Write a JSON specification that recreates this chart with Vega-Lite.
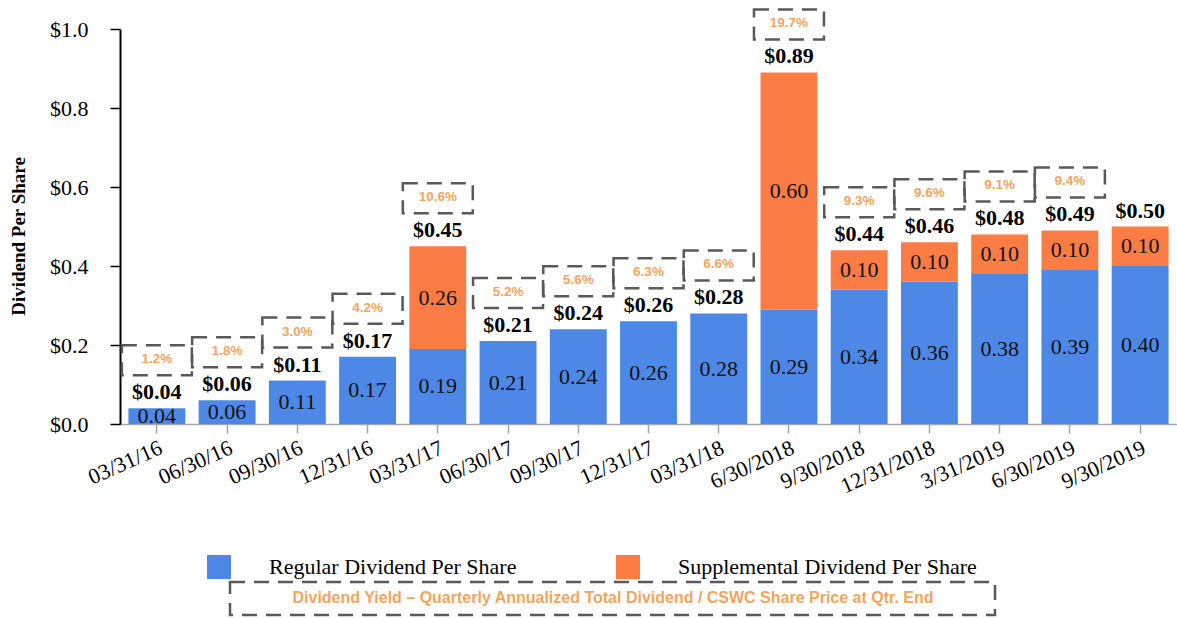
{
  "$schema": "https://vega.github.io/schema/vega-lite/v6.json",
  "width": 1057,
  "height": 395,
  "autosize": "none",
  "padding": {"left": 120, "top": 29, "right": 0, "bottom": 195},
  "background": "white",
  "config": {"view": {"stroke": null}, "font": "Liberation Serif"},
  "resolve": {"scale": {"y": "independent"}},
  "datasets": {
    "segments": [
      {"quarter": "03/31/16", "type": "Regular Dividend Per Share", "value": 0.04},
      {"quarter": "06/30/16", "type": "Regular Dividend Per Share", "value": 0.06},
      {"quarter": "09/30/16", "type": "Regular Dividend Per Share", "value": 0.11},
      {"quarter": "12/31/16", "type": "Regular Dividend Per Share", "value": 0.17},
      {"quarter": "03/31/17", "type": "Regular Dividend Per Share", "value": 0.19},
      {"quarter": "03/31/17", "type": "Supplemental Dividend Per Share", "value": 0.26},
      {"quarter": "06/30/17", "type": "Regular Dividend Per Share", "value": 0.21},
      {"quarter": "09/30/17", "type": "Regular Dividend Per Share", "value": 0.24},
      {"quarter": "12/31/17", "type": "Regular Dividend Per Share", "value": 0.26},
      {"quarter": "03/31/18", "type": "Regular Dividend Per Share", "value": 0.28},
      {"quarter": "6/30/2018", "type": "Regular Dividend Per Share", "value": 0.29},
      {"quarter": "6/30/2018", "type": "Supplemental Dividend Per Share", "value": 0.60},
      {"quarter": "9/30/2018", "type": "Regular Dividend Per Share", "value": 0.34},
      {"quarter": "9/30/2018", "type": "Supplemental Dividend Per Share", "value": 0.10},
      {"quarter": "12/31/2018", "type": "Regular Dividend Per Share", "value": 0.36},
      {"quarter": "12/31/2018", "type": "Supplemental Dividend Per Share", "value": 0.10},
      {"quarter": "3/31/2019", "type": "Regular Dividend Per Share", "value": 0.38},
      {"quarter": "3/31/2019", "type": "Supplemental Dividend Per Share", "value": 0.10},
      {"quarter": "6/30/2019", "type": "Regular Dividend Per Share", "value": 0.39},
      {"quarter": "6/30/2019", "type": "Supplemental Dividend Per Share", "value": 0.10},
      {"quarter": "9/30/2019", "type": "Regular Dividend Per Share", "value": 0.40},
      {"quarter": "9/30/2019", "type": "Supplemental Dividend Per Share", "value": 0.10}
    ],
    "totals": [
      {"quarter": "03/31/16", "total": 0.04, "yield": "1.2%"},
      {"quarter": "06/30/16", "total": 0.06, "yield": "1.8%"},
      {"quarter": "09/30/16", "total": 0.11, "yield": "3.0%"},
      {"quarter": "12/31/16", "total": 0.17, "yield": "4.2%"},
      {"quarter": "03/31/17", "total": 0.45, "yield": "10.6%"},
      {"quarter": "06/30/17", "total": 0.21, "yield": "5.2%"},
      {"quarter": "09/30/17", "total": 0.24, "yield": "5.6%"},
      {"quarter": "12/31/17", "total": 0.26, "yield": "6.3%"},
      {"quarter": "03/31/18", "total": 0.28, "yield": "6.6%"},
      {"quarter": "6/30/2018", "total": 0.89, "yield": "19.7%"},
      {"quarter": "9/30/2018", "total": 0.44, "yield": "9.3%"},
      {"quarter": "12/31/2018", "total": 0.46, "yield": "9.6%"},
      {"quarter": "3/31/2019", "total": 0.48, "yield": "9.1%"},
      {"quarter": "6/30/2019", "total": 0.49, "yield": "9.4%"},
      {"quarter": "9/30/2019", "total": 0.50, "yield": null}
    ]
  },
  "encoding": {
    "x": {
      "field": "quarter",
      "type": "nominal",
      "sort": ["03/31/16", "06/30/16", "09/30/16", "12/31/16", "03/31/17", "06/30/17", "09/30/17", "12/31/17", "03/31/18", "6/30/2018", "9/30/2018", "12/31/2018", "3/31/2019", "6/30/2019", "9/30/2019"],
      "scale": {"paddingInner": 0.19, "paddingOuter": 0.12},
      "axis": {
        "title": null,
        "labelAngle": -24,
        "labelAlign": "right",
        "labelBaseline": "top",
        "labelFont": "Liberation Serif",
        "labelFontSize": 22,
        "labelColor": "#000000",
        "labelPadding": 4,
        "domainColor": "#a6a6a6",
        "domainWidth": 1.5,
        "tickColor": "#a6a6a6",
        "tickSize": 9,
        "tickWidth": 1.5
      }
    }
  },
  "layer": [
    {
      "data": {"name": "segments"},
      "mark": {"type": "bar"},
      "encoding": {
        "y": {
          "field": "value",
          "type": "quantitative",
          "stack": "zero",
          "scale": {"domain": [0, 1]},
          "axis": {
            "title": "Dividend Per Share",
            "titleFont": "Liberation Serif",
            "titleFontSize": 19,
            "titleFontWeight": "bold",
            "titleColor": "#000000",
            "titleX": -102,
            "titleY": 207,
            "titleBaseline": "middle",
            "values": [0, 0.2, 0.4, 0.6, 0.8, 1.0],
            "format": "$.1f",
            "labelFont": "Liberation Serif",
            "labelFontSize": 22,
            "labelColor": "#000000",
            "labelPadding": 22,
            "tickSize": 10,
            "tickColor": "#000000",
            "tickWidth": 1.5,
            "domainColor": "#000000",
            "domainWidth": 2,
            "grid": false
          }
        },
        "color": {
          "field": "type",
          "type": "nominal",
          "scale": {"domain": ["Regular Dividend Per Share", "Supplemental Dividend Per Share"], "range": ["#4E88E6", "#FB7C45"]},
          "legend": {
            "orient": "none",
            "legendX": 87,
            "legendY": 526,
            "direction": "horizontal",
            "title": null,
            "symbolType": "square",
            "symbolSize": 576,
            "symbolStrokeWidth": 0,
            "labelFont": "Liberation Serif",
            "labelFontSize": 22,
            "labelColor": "#000000",
            "labelOffset": 38,
            "labelLimit": 600,
            "columnPadding": 99,
            "padding": 0
          }
        },
        "order": {"field": "type", "type": "nominal", "sort": "ascending"}
      }
    },
    {
      "data": {"name": "segments"},
      "transform": [
        {"stack": "value", "groupby": ["quarter"], "sort": [{"field": "type", "order": "ascending"}], "as": ["v0", "v1"]},
        {"fold": ["v0", "v1"], "as": ["k", "pos"]}
      ],
      "mark": {"type": "text", "font": "Liberation Serif", "fontSize": 22, "color": "#111111", "baseline": "middle"},
      "encoding": {
        "y": {"aggregate": "sum", "field": "pos", "type": "quantitative", "scale": {"domain": [0, 2]}, "axis": null},
        "detail": {"field": "type", "type": "nominal"},
        "text": {"aggregate": "max", "field": "value", "type": "quantitative", "format": ".2f"}
      }
    },
    {
      "data": {"name": "totals"},
      "mark": {"type": "text", "font": "Liberation Serif", "fontWeight": "bold", "fontSize": 22, "color": "#000000", "baseline": "middle", "dy": -16},
      "encoding": {
        "y": {"field": "total", "type": "quantitative", "scale": {"domain": [0, 1]}, "axis": null},
        "text": {"field": "total", "type": "quantitative", "format": "$.2f"}
      }
    },
    {
      "data": {"name": "totals"},
      "transform": [{"filter": "datum.yield != null"}],
      "mark": {"type": "bar", "fill": "transparent", "strokeWidth": 2.5, "strokeDash": [15, 9], "yOffset": -63, "y2Offset": -33, "width": {"band": 1.23}},
      "encoding": {
        "y": {"field": "total", "type": "quantitative", "scale": {"domain": [0, 1]}, "axis": null},
        "y2": {"field": "total"},
        "stroke": {
          "datum": "Dividend Yield – Quarterly Annualized Total Dividend / CSWC Share Price at Qtr. End",
          "type": "nominal",
          "scale": {"range": ["#595959"]},
          "legend": {
            "orient": "none",
            "legendX": 110,
            "legendY": 553,
            "title": "Dividend Yield – Quarterly Annualized Total Dividend / CSWC Share Price at Qtr. End",
            "titleFont": "Liberation Sans",
            "titleFontWeight": "bold",
            "titleFontSize": 16,
            "titleColor": "#F2A55E",
            "titleAnchor": "middle",
            "titleAlign": "center",
            "titleBaseline": "top",
            "titlePadding": 0,
            "titleLimit": 2000,
            "symbolType": "square",
            "symbolSize": 0,
            "symbolOpacity": 0,
            "symbolStrokeWidth": 0,
            "labelOffset": 748,
            "labelFontSize": 1,
            "labelColor": "#ffffff",
            "labelExpr": "' '",
            "padding": 8,
            "strokeColor": "#595959",
            "encoding": {"legend": {"strokeDash": {"value": [15, 9]}, "strokeWidth": {"value": 2.5}}}
          }
        }
      }
    },
    {
      "data": {"name": "totals"},
      "transform": [{"filter": "datum.yield != null"}],
      "mark": {"type": "text", "font": "Liberation Sans", "fontWeight": "bold", "fontSize": 13.5, "color": "#F2A55E", "baseline": "middle", "dy": -49},
      "encoding": {
        "y": {"field": "total", "type": "quantitative", "scale": {"domain": [0, 1]}, "axis": null},
        "text": {"field": "yield", "type": "nominal"}
      }
    }
  ]
}
